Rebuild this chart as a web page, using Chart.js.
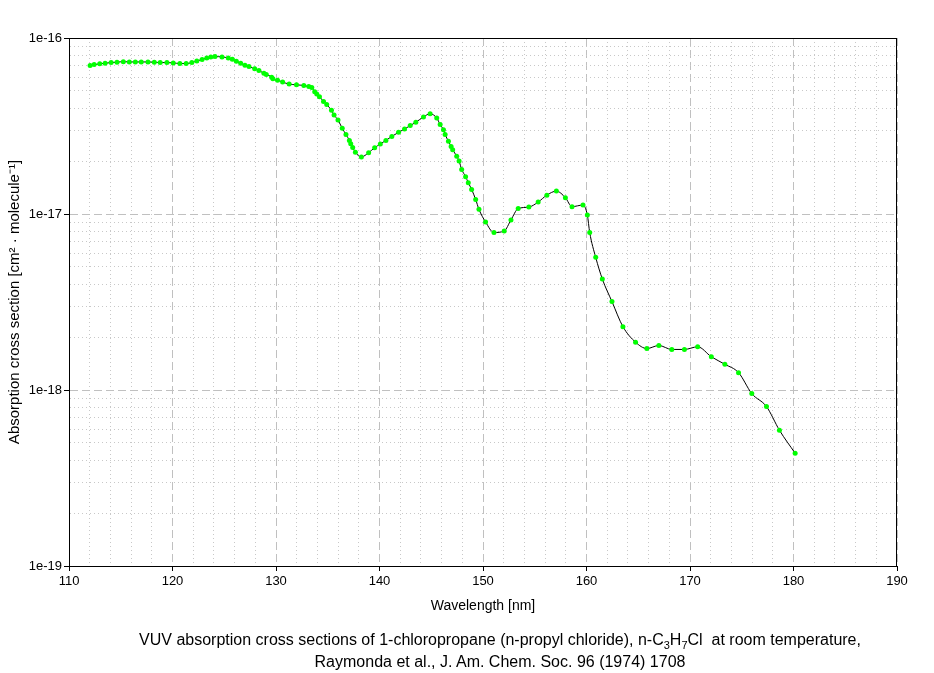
<!DOCTYPE html>
<html>
<head>
<meta charset="utf-8">
<script src="https://cdn.jsdelivr.net/npm/chart.js@4.4.0/dist/chart.umd.min.js"></script>
<style>
    html, body { margin: 0; padding: 0; background: #fff; }
    #wrap { position: relative; width: 934px; height: 673px; }
    #caption {
        position: absolute; left: 66px; width: 868px; top: 629px;
        text-align: center; font-family: 'Liberation Sans', Arial, sans-serif;
        font-size: 16px; line-height: 22px; color: #000;
    }
    #caption sub { font-size: 11px; vertical-align: -4px; line-height: 0; }
</style>
</head>
<body>
<div id="wrap">
    <canvas id="grafico" width="934" height="673"></canvas>
    <div id="caption">VUV absorption cross sections of 1-chloropropane (n-propyl chloride), n-C<sub>3</sub>H<sub>7</sub>Cl&nbsp; at room temperature,<br>Raymonda et al., J. Am. Chem. Soc. 96 (1974) 1708</div>
</div>
<script>
// comprimento de onda (nm)
const wavelength = [
    112.04, 112.43, 112.97, 113.49, 114.07, 114.64, 115.25, 115.83, 116.41, 116.98,
    117.63, 118.24, 118.81, 119.46, 120.07, 120.71, 121.32, 121.87, 122.35, 122.86,
    123.31, 123.70, 124.11, 124.78, 125.39, 125.78, 126.17, 126.59, 127.00, 127.39,
    127.94, 128.35, 128.83, 129.06, 129.58, 129.70, 130.15, 130.64, 131.27, 131.98,
    132.69, 133.17, 133.46, 133.74, 133.94, 134.20, 134.59, 134.90, 135.36, 135.61,
    135.99, 136.40, 136.76, 137.09, 137.22, 137.41, 137.67, 138.25, 138.95, 139.53,
    140.08, 140.62, 141.19, 141.84, 142.42, 142.97, 143.51, 144.25, 144.89, 145.53,
    145.86, 146.18, 146.34, 146.66, 146.92, 147.07, 147.46, 147.69, 147.94, 148.32,
    148.58, 148.90, 149.29, 149.61, 150.25, 151.06, 152.05, 152.70, 153.40, 154.43,
    155.33, 156.17, 157.09, 157.96, 158.60, 159.66, 160.08, 160.31, 160.89, 161.53,
    162.46, 163.52, 164.74, 165.83, 166.99, 168.24, 169.46, 170.74, 172.06, 173.37,
    174.69, 175.97, 177.39, 178.64, 180.16
];

// secao de choque (cm2 molecule-1)
const crossSection = [
    6.97e-17, 7.06e-17, 7.13e-17, 7.19e-17, 7.25e-17, 7.29e-17, 7.34e-17, 7.31e-17, 7.31e-17, 7.31e-17,
    7.31e-17, 7.29e-17, 7.25e-17, 7.25e-17, 7.22e-17, 7.16e-17, 7.16e-17, 7.25e-17, 7.41e-17, 7.54e-17,
    7.70e-17, 7.81e-17, 7.84e-17, 7.81e-17, 7.70e-17, 7.58e-17, 7.38e-17, 7.19e-17, 7.01e-17, 6.88e-17,
    6.68e-17, 6.53e-17, 6.31e-17, 6.20e-17, 5.99e-17, 5.86e-17, 5.76e-17, 5.62e-17, 5.47e-17, 5.42e-17,
    5.37e-17, 5.30e-17, 5.23e-17, 4.95e-17, 4.80e-17, 4.64e-17, 4.36e-17, 4.19e-17, 3.88e-17, 3.65e-17,
    3.42e-17, 3.07e-17, 2.83e-17, 2.62e-17, 2.51e-17, 2.39e-17, 2.24e-17, 2.11e-17, 2.23e-17, 2.38e-17,
    2.50e-17, 2.62e-17, 2.76e-17, 2.91e-17, 3.04e-17, 3.18e-17, 3.32e-17, 3.56e-17, 3.71e-17, 3.51e-17,
    3.22e-17, 3.01e-17, 2.83e-17, 2.59e-17, 2.42e-17, 2.32e-17, 2.13e-17, 2.00e-17, 1.79e-17, 1.63e-17,
    1.505e-17, 1.38e-17, 1.21e-17, 1.063e-17, 9.01e-18, 7.85e-18, 8.01e-18, 9.25e-18, 1.073e-17, 1.095e-17,
    1.169e-17, 1.28e-17, 1.349e-17, 1.238e-17, 1.101e-17, 1.124e-17, 9.87e-18, 7.85e-18, 5.67e-18, 4.27e-18,
    3.18e-18, 2.29e-18, 1.87e-18, 1.72e-18, 1.79e-18, 1.70e-18, 1.70e-18, 1.76e-18, 1.545e-18, 1.40e-18,
    1.255e-18, 9.54e-19, 8.05e-19, 5.91e-19, 4.37e-19
];

// eixos
const xMin = 110, xMax = 190, xStep = 2;
const xTickLabels = ['110', '120', '130', '140', '150', '160', '170', '180', '190'];
const yMajorTicks = [1e-19, 1e-18, 1e-17, 1e-16];
const yTickLabels = ['1e-19', '1e-18', '1e-17', '1e-16'];
const yMinorFactors = [2, 3, 4, 5, 6, 7, 8, 9];

const fonte = "'Liberation Sans', Arial, sans-serif";

function xMajor(v) { return Math.abs(v % 10) < 1e-6; }
function yMajorIndex(v) {
    return yMajorTicks.findIndex(m => Math.abs(Math.log10(v) - Math.log10(m)) < 1e-6);
}

// moldura preta em volta da area do grafico
const moldura = {
    id: 'moldura',
    beforeDatasetsDraw(chart) {
        const a = chart.chartArea, c = chart.ctx;
        c.save();
        c.strokeStyle = '#000';
        c.lineWidth = 1;
        c.strokeRect(Math.round(a.left) + 0.5, Math.round(a.top) + 0.5,
            Math.round(a.right - a.left) - 1, Math.round(a.bottom - a.top));
        c.restore();
    }
};

const pontos = wavelength.map((w, i) => ({ x: w, y: crossSection[i] }));

new Chart(document.getElementById('grafico').getContext('2d'), {
    type: 'line',
    data: {
        datasets: [{
            data: pontos,
            borderColor: '#000',
            borderWidth: 1,
            cubicInterpolationMode: 'monotone',
            pointRadius: 2.5,
            pointBorderWidth: 0,
            pointBackgroundColor: '#00ff00',
            pointBorderColor: '#00ff00',
            fill: false
        }]
    },
    options: {
        responsive: false,
        animation: false,
        layout: { padding: { left: 0, top: 38, right: 37, bottom: 58 } },
        plugins: { legend: { display: false }, tooltip: { enabled: false } },
        scales: {
            x: {
                type: 'linear',
                min: xMin,
                max: xMax,
                afterFit: s => { s.height = 49; },
                ticks: {
                    stepSize: xStep,
                    autoSkip: false,
                    maxRotation: 0,
                    padding: 3,
                    color: '#000',
                    font: { family: fonte, size: 13 },
                    callback: v => xMajor(v) ? xTickLabels[Math.round((v - xMin) / 10)] : ''
                },
                grid: {
                    color: ctx => ctx.tick && xMajor(ctx.tick.value) ? '#c0c0c0' : '#c8c8c8',
                    tickColor: ctx => ctx.tick && xMajor(ctx.tick.value) ? '#000' : 'rgba(0,0,0,0)',
                    tickLength: 5
                },
                border: {
                    color: '#000',
                    dash: ctx => !ctx.tick ? [] : (xMajor(ctx.tick.value) ? [8, 4] : [1, 3])
                },
                title: {
                    display: true,
                    text: 'Wavelength [nm]',
                    color: '#000',
                    font: { family: fonte, size: 14 },
                    padding: { top: 0, bottom: 0 }
                }
            },
            y: {
                type: 'logarithmic',
                min: yMajorTicks[0],
                max: yMajorTicks[yMajorTicks.length - 1],
                afterFit: s => { s.width = 69; },
                afterBuildTicks: s => {
                    const t = [];
                    yMajorTicks.forEach((m, i) => {
                        t.push({ value: m });
                        if (i < yMajorTicks.length - 1) yMinorFactors.forEach(f => t.push({ value: m * f }));
                    });
                    s.ticks = t;
                },
                ticks: {
                    autoSkip: false,
                    padding: 2,
                    color: '#000',
                    font: { family: fonte, size: 13 },
                    callback: v => { const i = yMajorIndex(v); return i >= 0 ? yTickLabels[i] : ''; }
                },
                grid: {
                    color: ctx => ctx.tick && yMajorIndex(ctx.tick.value) >= 0 ? '#c0c0c0' : '#c8c8c8',
                    tickColor: ctx => ctx.tick && yMajorIndex(ctx.tick.value) >= 0 ? '#000' : 'rgba(0,0,0,0)',
                    tickLength: 5
                },
                border: {
                    color: '#000',
                    dash: ctx => !ctx.tick ? [] : (yMajorIndex(ctx.tick.value) >= 0 ? [8, 4] : [1, 3])
                },
                title: {
                    display: true,
                    text: 'Absorption cross section [cm² · molecule⁻¹]',
                    color: '#000',
                    font: { family: fonte, size: 15 },
                    padding: { top: 6, bottom: 0 }
                }
            }
        }
    },
    plugins: [moldura]
});
</script>
</body>
</html>
